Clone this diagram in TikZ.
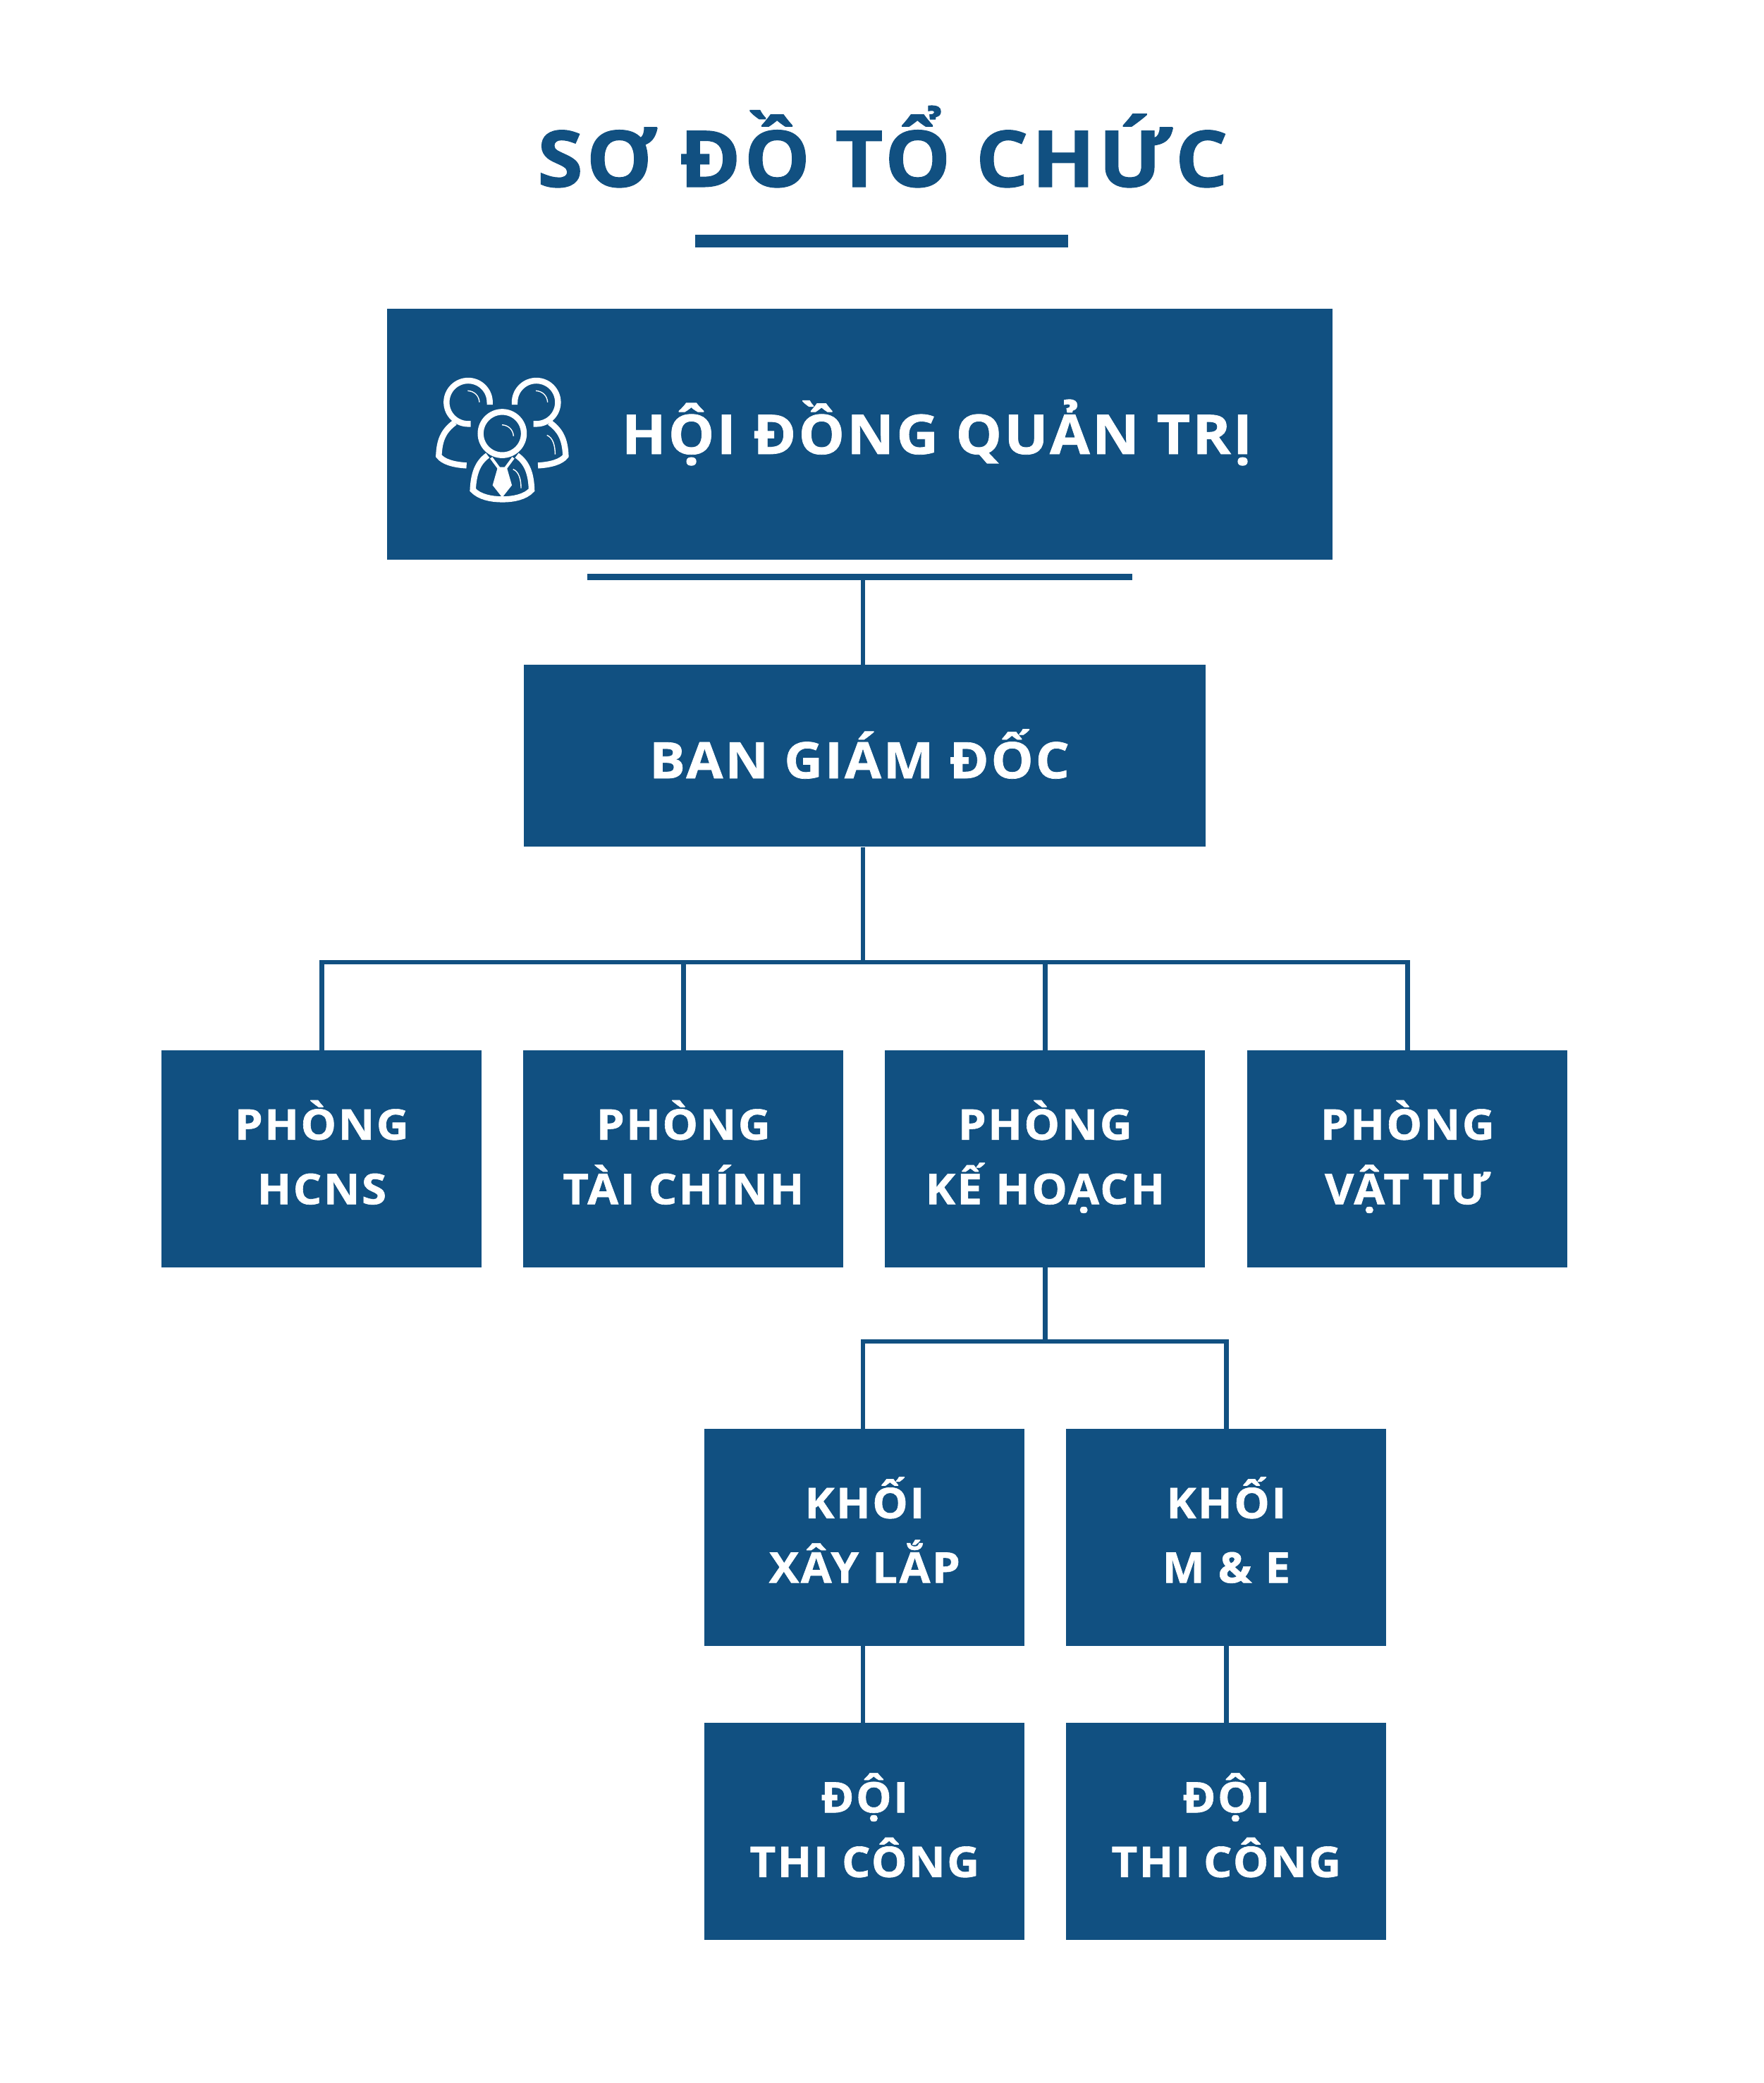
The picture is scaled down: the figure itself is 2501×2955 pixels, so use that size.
\documentclass[tikz,border=0pt]{standalone}
\usepackage{fontspec}
\setmainfont{Open Sans}[BoldFeatures={FakeBold=1.0,FakeStretch=1.06},LetterSpace=4.2]
\definecolor{navy}{HTML}{115081}
\newcommand{\tb}[2]{\rule{0pt}{40pt}#1\\\rule[-21.4pt]{0pt}{21.4pt}#2}
\tikzset{
  x=0.5pt,y=-0.5pt,
  box/.style={draw=none,fill=navy,text=white,inner sep=0pt,align=center,font=\fontsize{30}{45.75}\bfseries\selectfont,anchor=north west,minimum width=227pt,minimum height=154pt},
  conn/.style={draw=navy,line width=3.2pt},
  ic/.style={draw=white,line width=4.2pt,fill=none},
  hl/.style={draw=white,line width=0.7pt},
  fillbar/.style={fill=navy,inner sep=0pt,anchor=north west},
}
\begin{document}
\begin{tikzpicture}
\useasboundingbox (0,0) rectangle (2501,2955);
\node[text=navy,font=\fontsize{55.5}{60}\bfseries\selectfont,anchor=base] (title) at (1252,265) {SƠ ĐỒ TỔ CHỨC};
\node[fillbar,minimum width=264.5pt,minimum height=9pt] (rule) at (986,333) {};
\node[box,minimum width=670.75pt,minimum height=178pt] (hdqt) at (548.5,437.3) {};
\node[text=white,font=\fontsize{38.8}{45}\bfseries\selectfont,anchor=base] (hdqtl) at (1329,644) {HỘI ĐỒNG QUẢN TRỊ};
\node[fillbar,minimum width=386.5pt,minimum height=4.5pt] (bar) at (833,814) {};
\node[box,minimum width=483.5pt,minimum height=129pt] (bgd) at (742.5,943) {};
\node[text=white,font=\fontsize{35.6}{45}\bfseries\selectfont,anchor=base] (bgdl) at (1219,1104) {BAN GIÁM ĐỐC};
\node[box] (a) at (229,1489.5) {\tb{PHÒNG}{HCNS}};
\node[box] (b) at (742,1489.5) {\tb{PHÒNG}{TÀI CHÍNH}};
\node[box] (c) at (1255,1489.5) {\tb{PHÒNG}{KẾ HOẠCH}};
\node[box] (d) at (1769,1489.5) {\tb{PHÒNG}{VẬT TƯ}};
\node[box] (k1) at (999,2026.5) {\tb{KHỐI}{XÂY LẮP}};
\node[box] (k2) at (1512,2026.5) {\tb{KHỐI}{M \& E}};
\node[box] (t1) at (999,2444) {\tb{ĐỘI}{THI CÔNG}};
\node[box] (t2) at (1512,2444) {\tb{ĐỘI}{THI CÔNG}};
\coordinate (hub) at (1224,1365);
\coordinate (hub2) at (1482,1903);
\coordinate (trunkt) at (1224,823);
\coordinate (drop) at (1224,2200);
\draw[conn] (trunkt) -- (trunkt |- bgd.north);
\draw[conn] (trunkt |- bgd.south) -- (hub);
\draw[conn] (a.north) -- (a.north |- hub) -- (d.north |- hub) -- (d.north);
\draw[conn] (b.north) -- (b.north |- hub);
\draw[conn] (c.north) -- (c.north |- hub);
\draw[conn] (c.south) -- (c.south |- hub2);
\draw[conn] (drop |- k1.north) -- (drop |- hub2) -- (k2.north |- hub2) -- (k2.north);
\draw[conn] (drop |- k1.south) -- (drop |- t1.north);
\draw[conn] (k2.south) -- (t2.north);
% icon
\begin{scope}[shift={(580,500)},x=0.1667pt,y=-0.1667pt]
\draw[ic] (344,222) -- (344,212) arc (0:-270:92) -- (263,304);
\draw[ic] (450,222) -- (450,212) arc (180:450:92) -- (530,304);
\draw[ic] (195,298) .. controls (145,335) and (130,375) .. (127,440) .. controls (145,465) and (190,478) .. (245,481);
\draw[ic] (599,298) .. controls (649,335) and (664,375) .. (667,440) .. controls (649,465) and (604,478) .. (549,481);
\draw[ic] (397,345) circle (92);
\draw[ic] (335,438) .. controls (290,470) and (275,520) .. (272,585) .. controls (300,615) and (350,625) .. (397,625) .. controls (445,625) and (495,615) .. (522,585) .. controls (520,520) and (505,470) .. (459,438);
\fill[white] (378,488) -- (416,488) -- (438,565) -- (397,617) -- (356,565) -- cycle;
\draw[white,line width=2pt] (350,448) -- (384,494) (444,448) -- (410,494);
\draw[hl] (250,163) .. controls (280,165) and (298,185) .. (300,212);
\draw[hl] (540,163) .. controls (570,165) and (588,185) .. (590,212);
\draw[hl] (396,308) .. controls (425,310) and (443,330) .. (445,356);
\draw[hl] (587,352) .. controls (612,362) and (622,395) .. (622,434);
\draw[hl] (443,497) .. controls (468,507) and (477,540) .. (477,578);
\end{scope}
\end{tikzpicture}
\end{document}
